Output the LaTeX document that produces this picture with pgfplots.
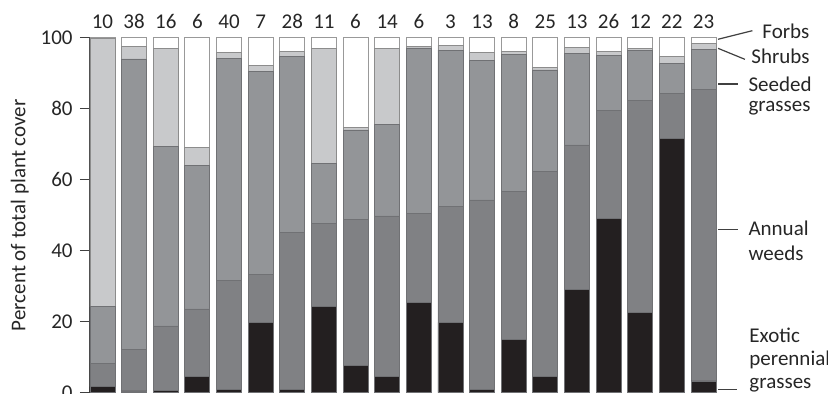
\documentclass[border=0pt]{standalone}
\usepackage{pgfplots}
\pgfplotsset{compat=1.18}
\usepackage{pgfplotstable}
\usepackage{fontspec}
\setmainfont{Carlito}
\definecolor{cEx}{HTML}{231F20}
\definecolor{cAn}{HTML}{808184}
\definecolor{cSe}{HTML}{939598}
\definecolor{cSh}{HTML}{C8C9CB}
\definecolor{cFo}{HTML}{FFFFFF}
\definecolor{cEdge}{HTML}{707174}
\pgfplotstableread{
x  ex   an   se   sh   fo   n  t
1  1.7  6.6  15.9 75.6 0.2  10 100
2  0.5  11.7 81.8 3.6  2.4  38 100
3  0.7  18.1 50.6 27.5 3.1  16 100
4  4.7  18.9 40.3 5.2  30.9 6  100
5  1.0  30.7 62.5 1.7  4.1  40 100
6  19.8 13.6 57.0 1.8  7.8  7  100
7  1.0  44.1 49.7 1.4  3.8  28 100
8  24.2 23.6 16.8 32.4 3.0  11 100
9  7.6  41.2 25.2 0.8  25.2 6  100
10 4.5  45.3 25.8 21.3 3.1  14 100
11 25.4 25.0 46.7 0.4  2.5  6  100
12 19.8 32.6 44.1 1.4  2.1  3  100
13 0.8  53.5 39.3 2.2  4.2  13 100
14 15.1 41.7 38.6 0.8  3.8  8  100
15 4.5  57.8 28.6 0.8  8.3  25 100
16 29.0 40.8 25.7 1.7  2.8  13 100
17 49.2 30.4 15.5 0.9  4.0  26 100
18 22.6 59.8 14.1 0.5  3.0  12 100
19 71.7 12.5 8.5  2.1  5.2  22 100
20 3.3  82.0 11.4 1.6  1.7  23 100
}\data
\begin{document}
\fontsize{10.5pt}{12pt}\selectfont
\begin{tikzpicture}
\begin{axis}[
  scale only axis,
  width=313pt, height=177.5pt,
  xmin=0.605, xmax=20.395,
  ymin=0, ymax=100,
  ybar stacked,
  bar width=12.5pt,
  axis x line=none,
  axis y line*=left,
  axis line style={black!75, line width=0.6pt},
  ytick={0,20,...,100},
  tick align=outside,
  major tick length=5pt,
  tick style={black!75, line width=0.6pt},
  /pgf/number format/assume math mode=true,
  yticklabel style={text=black!85},
  ylabel={Percent of total plant cover},
  ylabel style={at={(axis description cs:-0.112,0.5)}, anchor=center, text=black!85},
  clip=false,
  every axis plot/.append style={draw=cEdge, line width=0.4pt},
]
\addplot[fill=cEx] table[x=x,y=ex]{\data};
\addplot[fill=cAn] table[x=x,y=an]{\data};
\addplot[fill=cSe] table[x=x,y=se]{\data};
\addplot[fill=cSh, draw=black!45] table[x=x,y=sh]{\data};
\addplot[fill=cFo, draw=black!40] table[x=x,y=fo]{\data};
\coordinate (sw) at (rel axis cs:0,0);
\coordinate (ne) at (rel axis cs:1,1);
% leader lines
\draw[black!75, line width=0.6pt] (axis cs:20.46,99.55) -- (axis cs:21.545,101.97);
\draw[black!75, line width=0.6pt] (axis cs:20.46,97.0) -- (axis cs:21.31,93.9);
\draw[black!75, line width=0.6pt] (axis cs:20.46,86.96) -- (axis cs:21.09,86.96);
\draw[black!75, line width=0.6pt] (axis cs:20.46,46.0) -- (axis cs:21.09,46.0);
\draw[black!75, line width=0.6pt] (axis cs:20.46,0.96) -- (axis cs:21.05,0.96);
\path[every node/.style={anchor=west, inner sep=0pt, text=black!85}]
  (axis cs:21.85,101.9) node {Forbs}
  (axis cs:21.50,94.85) node {Shrubs}
  (axis cs:21.41,86.96) node {Seeded}
  (axis cs:21.41,80.2) node {grasses}
  (axis cs:21.41,46.3) node {Annual}
  (axis cs:21.41,39.3) node {weeds}
  (axis cs:21.44,16.25) node {Exotic}
  (axis cs:21.44,9.2) node {perennial}
  (axis cs:21.44,2.2) node {grasses};
\end{axis}
\begin{axis}[
  scale only axis,
  width=313pt, height=177.5pt,
  xmin=0.605, xmax=20.395,
  ymin=0, ymax=100,
  hide axis, clip=false,
]
\addplot[draw=none, mark=none,
  nodes near coords, point meta=explicit symbolic,
  every node near coord/.append style={anchor=south, inner sep=0pt, yshift=4.3pt, text=black!85}]
  table[x=x,y=t,meta=n]{\data};
\end{axis}
\pgfresetboundingbox
\path[use as bounding box] ([xshift=-45pt,yshift=-0.65pt]sw) rectangle ([xshift=56pt,yshift=18.85pt]ne);
\end{tikzpicture}
\end{document}
